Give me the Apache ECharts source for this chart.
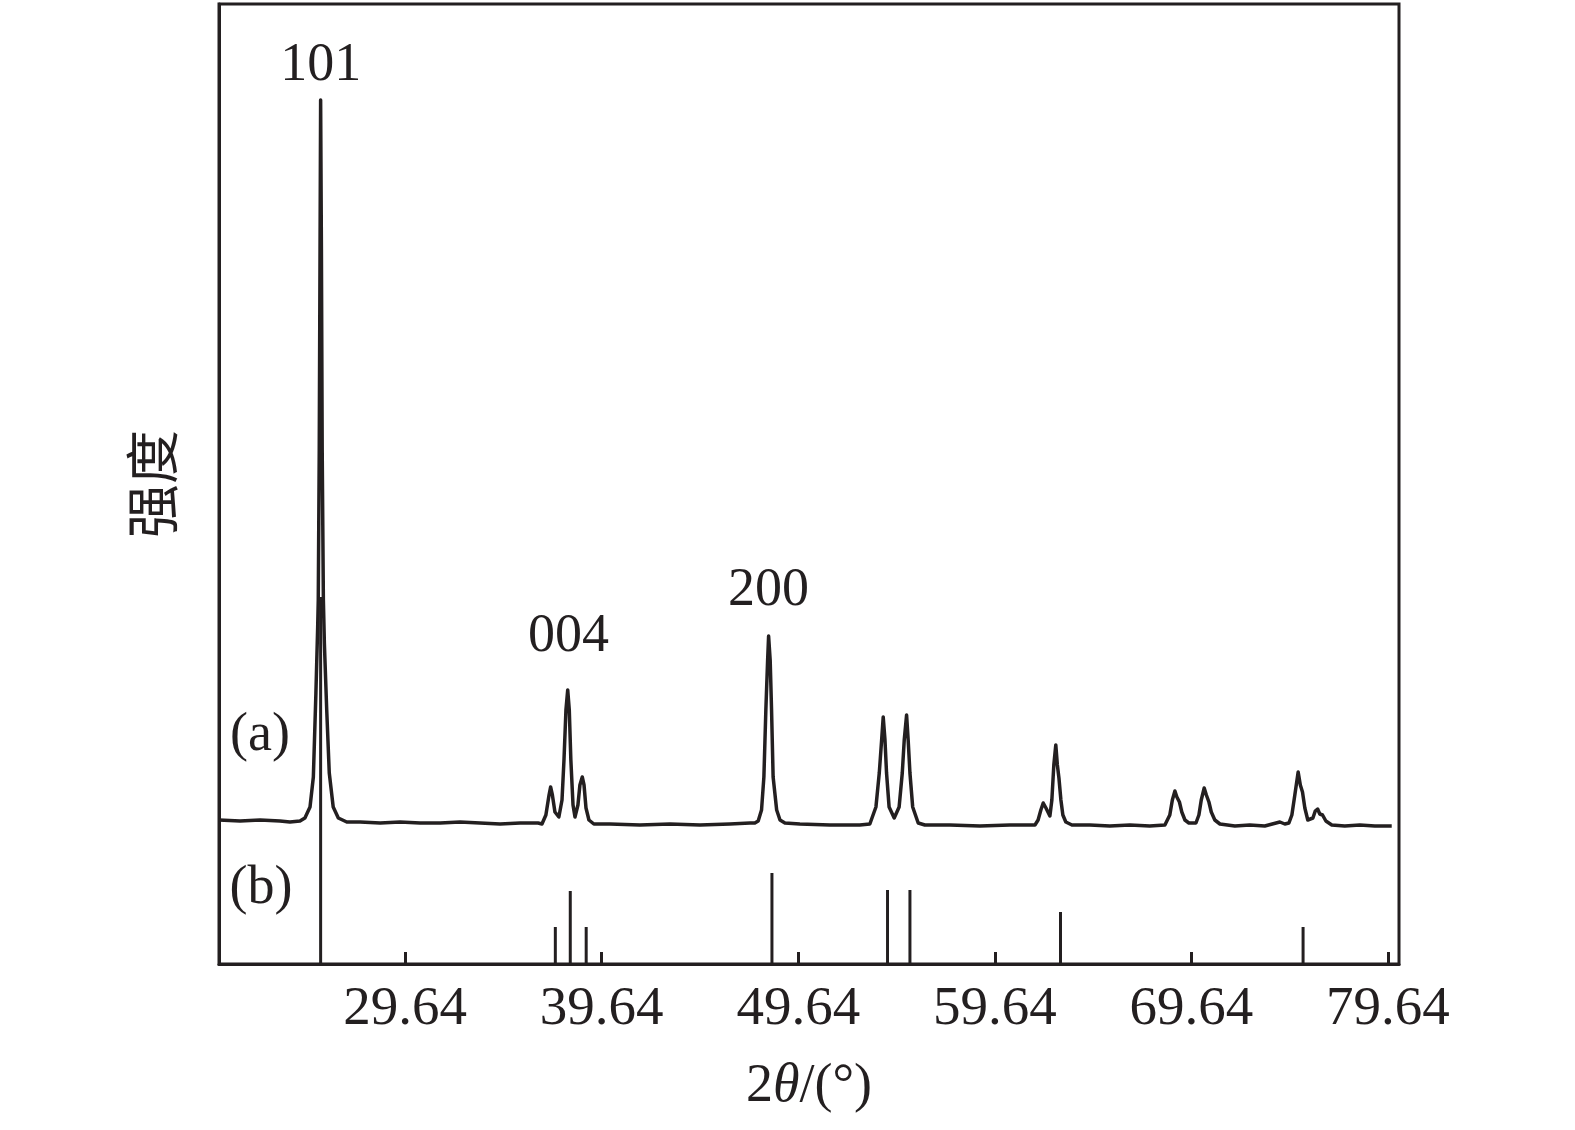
<!DOCTYPE html>
<html>
<head>
<meta charset="utf-8">
<script src="https://cdn.jsdelivr.net/npm/echarts@6/dist/echarts.min.js"></script>
<style>
html,body{margin:0;padding:0;background:#fff;}
#chart{width:1575px;height:1130px;}
</style>
</head>
<body>
<div id="chart"></div>
<script>
// (a) measured pattern: 2θ (°) and intensity (a.u., offset above the reference pattern)
var patternX = [
  20.17, 21.24, 22.26, 23.27, 23.78,
  24.29, 24.54, 24.80, 24.97, 25.10, 25.19, 25.22, 25.27, 25.31, 25.34, 25.38, 25.42, 25.48, 25.53, 25.65, 25.78, 25.98, 26.24, 26.67,
  27.35, 28.37, 29.38, 30.40, 31.42, 32.43, 33.45, 34.47, 35.49, 36.40,
  36.60, 36.80, 36.96, 37.04, 37.13, 37.26, 37.46, 37.62, 37.72, 37.82, 37.91, 37.99, 38.07, 38.18, 38.28, 38.43, 38.53, 38.65, 38.74, 38.84, 38.99, 39.24,
  40.06, 41.58, 43.11, 44.64, 46.16, 47.18,
  47.43, 47.60, 47.77, 47.89, 47.99, 48.08, 48.13, 48.21, 48.28, 48.36, 48.54, 48.71, 48.96,
  49.72, 51.25, 52.77, 53.28,
  53.37, 53.59, 53.76, 53.88, 53.96, 54.05, 54.13, 54.26, 54.52, 54.77, 54.93, 55.03, 55.15, 55.23, 55.32, 55.46, 55.74, 56.08,
  57.35, 58.88, 60.40, 61.68,
  61.84, 61.98, 62.10, 62.24, 62.44, 62.54, 62.64, 62.74, 62.82, 62.90, 63.00, 63.10, 63.25, 63.56,
  64.47, 65.49, 66.51, 67.52, 68.29,
  68.39, 68.54, 68.67, 68.80, 68.90, 69.03, 69.15, 69.31, 69.51,
  69.87, 70.02, 70.14, 70.29, 70.40, 70.53, 70.65, 70.83, 71.09,
  71.85, 72.61, 73.37, 74.14, 74.39,
  74.60, 74.75, 74.90, 75.07, 75.18, 75.29, 75.41, 75.56, 75.66, 75.82, 75.94, 76.06, 76.17, 76.31, 76.48, 76.78,
  77.44, 78.21, 78.97, 79.83
];
var patternY = [
  144, 143, 144, 143, 142,
  143, 146, 157, 187, 271, 337, 364, 514, 714, 864, 714, 514, 364, 321, 254, 191, 157, 146, 142,
  142, 141, 142, 141, 141, 142, 141, 140, 141, 141,
  140, 149, 169, 177, 169, 152, 147, 164, 204, 254, 274, 254, 204, 159, 147, 159, 179, 187, 179, 156, 144, 140,
  140, 139, 140, 139, 140, 141,
  141, 143, 154, 187, 254, 304, 328, 304, 254, 187, 154, 144, 141,
  140, 139, 139, 140,
  141, 157, 191, 224, 247, 224, 191, 157, 146, 157, 191, 224, 249, 224, 191, 157, 141, 139,
  139, 138, 139, 139,
  144, 154, 161, 156, 148, 164, 199, 219, 199, 186, 164, 149, 142, 139,
  139, 138, 139, 138, 139,
  140, 149, 164, 173, 167, 162, 152, 144, 141,
  141, 149, 164, 176, 169, 162, 152, 144, 140,
  138, 139, 138, 142, 140,
  141, 149, 169, 192, 179, 172, 156, 144, 142, 146, 153, 155, 150, 149, 143, 139,
  138, 139, 138, 138
];

// (b) reference stick pattern (anatase): 2θ (°) and relative height (a.u.)
var stickX = [25.34, 37.28, 38.04, 38.85, 48.30, 54.18, 55.32, 62.98, 75.32];
var stickY = [367, 37, 73, 37, 91, 74, 74, 52, 37];

// x tick labels
var xTicks = [29.64, 39.64, 49.64, 59.64, 69.64, 79.64];

// annotations: text, 2θ, intensity
var annText = ['101', '004', '200', '(a)', '(b)'];
var annX = [25.34, 37.95, 48.12, 22.26, 22.31];
var annY = [898, 327, 373, 228, 75];

var INK = '#231f20';
var SERIF = '"Liberation Serif", "Times New Roman", serif';

var lineData = patternX.map(function (x, i) { return [x, patternY[i]]; });
var stickData = stickX.map(function (x, i) { return [x, stickY[i]]; });
var annData = annText.map(function (t, i) { return [annX[i], annY[i], t]; });

var chart = echarts.init(document.getElementById('chart'), null, { renderer: 'canvas' });
chart.setOption({
  animation: false,
  backgroundColor: '#ffffff',
  grid: {
    left: 219, right: 176, top: 4, bottom: 166,
    show: true, borderColor: INK, borderWidth: 3, backgroundColor: 'transparent'
  },
  xAxis: {
    type: 'value',
    min: 20.17,
    max: 80.2,
    name: '{n|2}{i|θ}{n|/(°)}',
    nameLocation: 'middle',
    nameGap: 96,
    nameTextStyle: {
      rich: {
        n: { fontFamily: SERIF, fontSize: 54, color: INK },
        i: { fontFamily: SERIF, fontSize: 54, color: INK, fontStyle: 'italic' }
      }
    },
    axisLine: { show: true, onZero: false, lineStyle: { color: INK, width: 3 } },
    axisTick: { show: true, inside: true, length: 12, lineStyle: { color: INK, width: 3 }, customValues: xTicks },
    axisLabel: {
      show: true, customValues: xTicks, margin: 18,
      fontFamily: SERIF, fontSize: 55, color: INK,
      formatter: function (v) { return Number(v).toFixed(2); }
    },
    splitLine: { show: false }
  },
  yAxis: {
    type: 'value',
    min: 0,
    max: 960,
    name: '强度',
    nameLocation: 'middle',
    nameGap: 40,
    nameRotate: 90,
    nameTextStyle: { fontFamily: '"Noto Sans CJK SC", sans-serif', fontSize: 54, color: INK, fontWeight: 'normal' },
    axisLine: { show: true, lineStyle: { color: INK, width: 3 } },
    axisTick: { show: false },
    axisLabel: { show: false },
    splitLine: { show: false }
  },
  series: [
    {
      name: 'b',
      type: 'bar',
      data: stickData,
      barWidth: 3,
      itemStyle: { color: INK },
      silent: true,
      z: 2
    },
    {
      name: 'a',
      type: 'line',
      data: lineData,
      showSymbol: false,
      symbol: 'none',
      lineStyle: { color: INK, width: 3.5, join: 'round' },
      silent: true,
      z: 3
    },
    {
      name: 'labels',
      type: 'scatter',
      data: annData,
      symbolSize: 1,
      itemStyle: { color: 'rgba(0,0,0,0)', opacity: 1 },
      label: {
        show: true,
        position: 'inside',
        formatter: function (p) { return p.value[2]; },
        fontFamily: SERIF,
        fontSize: 54,
        color: INK,
        opacity: 1
      },
      silent: true,
      z: 4
    }
  ]
});
</script>
</body>
</html>
